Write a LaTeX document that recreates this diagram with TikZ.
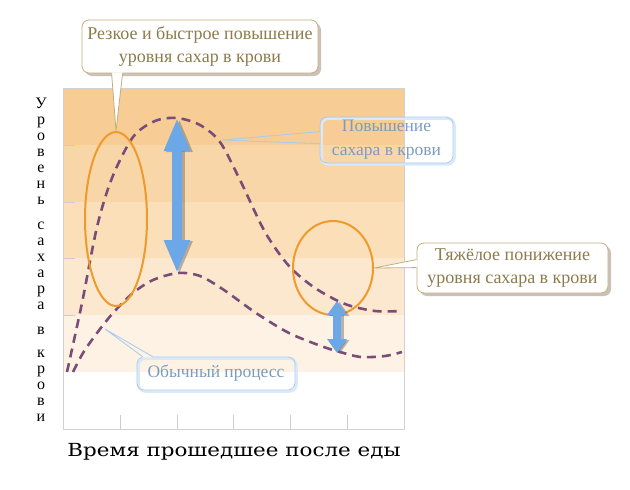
\documentclass[tikz,border=0pt]{standalone}
\usepackage{graphicx}
\usepackage{fontspec}
\setmainfont{Liberation Serif}
\newfontfamily\titlefont{DejaVu Serif}
\usetikzlibrary{arrows.meta,shapes.geometric,shadows}
\definecolor{bandA}{HTML}{F7CD95}
\definecolor{bandB}{HTML}{F9D6A8}
\definecolor{bandC}{HTML}{FADFB9}
\definecolor{bandD}{HTML}{FCE8CE}
\definecolor{bandE}{HTML}{FDF2E4}
\definecolor{curvepurple}{HTML}{7A4D78}
\definecolor{ringorange}{HTML}{EF9A2C}
\definecolor{arrowblue}{HTML}{6CA8E8}
\definecolor{olivetext}{HTML}{8C7B4B}
\definecolor{oliveline}{HTML}{C4AE7C}
\definecolor{bluetext}{HTML}{7B9CBE}
\definecolor{blueline}{HTML}{A6CBEF}
\tikzset{
  curveline/.style={color=curvepurple,line width=2.6pt,dash pattern=on 9pt off 6pt},
  ringline/.style={draw=ringorange,line width=2pt,ellipse,inner sep=0pt},
  bigarrow/.style={line width=10pt,{Triangle[length=33pt,width=24pt]}-{Triangle[length=33pt,width=24pt]}},
  smallarrow/.style={line width=8pt,{Triangle[length=14pt,width=19pt]}-{Triangle[length=14pt,width=19pt]}},
  arrowshadow/.style={color=black!60,opacity=.45,transform canvas={shift={(2.5pt,-1pt)}}},
  olivebox/.style={draw=oliveline,line width=.8pt,rounded corners=7pt,fill=white,text=olivetext,
    align=center,font=\fontsize{18}{23}\selectfont,
    drop shadow={shadow xshift=3pt,shadow yshift=-3pt,opacity=.3,fill=black!60!brown}},
  bluebox/.style={draw=blueline,line width=.8pt,rounded corners=7pt,text=bluetext,
    align=center,font=\fontsize{17.5}{24}\selectfont,
    preaction={draw=arrowblue!25,line width=2.5pt,transform canvas={shift={(1.5pt,-1.5pt)}}}}
}
\begin{document}
\begin{tikzpicture}[x=1pt,y=-1pt]
  \useasboundingbox (0,0) rectangle (630,490);
  \fill[bandA] (63,88) rectangle (404,145);
  \fill[bandB] (63,145) rectangle (404,202);
  \fill[bandC] (63,202) rectangle (404,258);
  \fill[bandD] (63,258) rectangle (404,315);
  \fill[bandE] (63,315) rectangle (404,372);
  \draw[black!18,line width=1pt] (63,88) rectangle (404,429);
  \foreach \y in {145,202,258,315}
    \draw[black!20,line width=1pt] (63,\y) -- (75,\y);
  \foreach \x in {120,177,233,290,347}
    \draw[black!20,line width=1pt] (\x,415) -- (\x,429);

  \draw[curveline] plot[smooth] coordinates {(67,372) (82,303) (97,227) (112,178) (133,137) (155,121)
    (177,118) (200,125) (220,142) (240,180) (265,232) (289,266) (315,288) (345,304) (375,311) (402,311)};
  \draw[curveline] plot[smooth] coordinates {(73,372) (83,353) (97,333) (113,313) (133,293) (153,280)
    (178,273) (200,276) (224,290) (256,313) (289,333) (321,346) (340,352) (361,357) (385,356) (402,352)};

  \coordinate (hiPeak) at (177,118);
  \coordinate (loPeak) at (177,273);
  \coordinate (hiDip) at (337,301);
  \coordinate (loDip) at (337,353);
  \coordinate (hiSlope) at (222,140);
  \coordinate (loSlope) at (105,329);

  \node[ringline,minimum width=62pt,minimum height=174pt] (spike) at (116,219) {};
  \node[ringline,minimum width=80pt,minimum height=94pt] (dip) at (333,268) {};

  \draw[bigarrow,arrowshadow] (hiPeak) -- (loPeak);
  \draw[bigarrow,arrowblue] (hiPeak) -- (loPeak);
  \draw[smallarrow,arrowshadow] (hiDip) -- (loDip);
  \draw[smallarrow,arrowblue] (hiDip) -- (loDip);

  \node[olivebox,minimum width=236pt,minimum height=53pt] (sharp) at (200,46.5)
    {Резкое и быстрое повышение\\уровня сахар в крови};
  \node[bluebox,minimum width=133pt,minimum height=44pt] (rise) at (386.5,140)
    {Повышение\\сахара в крови};
  \node[olivebox,minimum width=191pt,minimum height=50pt] (drop) at (512.5,268)
    {Тяжёлое понижение\\уровня сахара в крови};
  \node[bluebox,minimum width=158pt,minimum height=33pt] (normal) at (216,373.5)
    {Обычный процесс};

  \fill[white] ([xshift=30pt,yshift=1pt]sharp.south west) -- (spike.north) -- ([xshift=41pt,yshift=1pt]sharp.south west) -- cycle;
  \draw[oliveline,line width=.8pt] ([xshift=30pt]sharp.south west) -- (spike.north) -- ([xshift=41pt]sharp.south west);
  \fill[bandA] ([xshift=1pt,yshift=-15pt]rise.north west) -- (hiSlope) -- ([xshift=1pt,yshift=-27pt]rise.north west) -- cycle;
  \draw[blueline,line width=.8pt] ([yshift=-15pt]rise.north west) -- (hiSlope) -- ([yshift=-27pt]rise.north west);
  \fill[white] ([xshift=1pt,yshift=-17pt]drop.north west) -- (dip.east) -- ([xshift=1pt,yshift=-25pt]drop.north west) -- cycle;
  \draw[oliveline,line width=.8pt] ([yshift=-17pt]drop.north west) -- (dip.east) -- ([yshift=-25pt]drop.north west);
  \fill[bandE] ([xshift=6pt,yshift=-1pt]normal.north west) -- (loSlope) -- ([xshift=16pt,yshift=-1pt]normal.north west) -- cycle;
  \draw[blueline,line width=.8pt] ([xshift=6pt]normal.north west) -- (loSlope) -- ([xshift=16pt]normal.north west);

  \node[align=center,inner sep=0pt,font=\fontsize{16}{16}\selectfont] (ylab) at (41,259.5)
    {У\\р\\о\\в\\е\\н\\ь\\[9pt]с\\а\\х\\а\\р\\а\\[9pt]в\\[7pt]к\\р\\о\\в\\и};
  \node[font=\titlefont\fontsize{18}{20}\selectfont] (xlab) at (234,452)
    {\scalebox{1.19}[1]{Время прошедшее после еды}};
\end{tikzpicture}
\end{document}
